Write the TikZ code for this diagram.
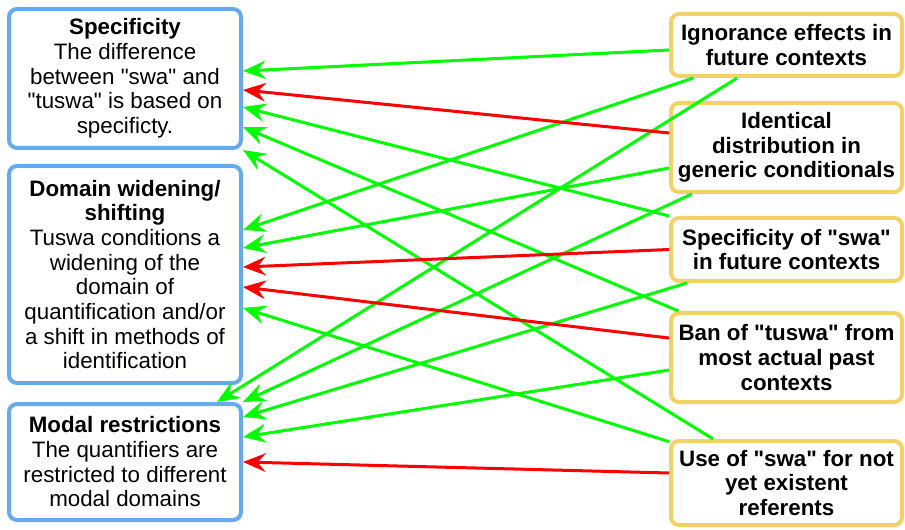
\documentclass[tikz,border=0pt]{standalone}
\usepackage{fontspec}
\setmainfont{Liberation Sans}
\usetikzlibrary{arrows.meta}

\definecolor{boxblue}{RGB}{102,170,238}
\definecolor{boxyellow}{RGB}{242,210,102}
\definecolor{linkgreen}{RGB}{0,255,0}
\definecolor{linkred}{RGB}{255,0,0}
\def\q{\textquotedbl}

\begin{document}
\begin{tikzpicture}[x=0.75pt,y=-0.75pt,
        conceptbox/.style={draw=boxblue,line width=3pt,rounded corners=6pt,fill=white,
            align=center,minimum width=174pt,inner sep=0pt,font={\fontsize{16.75}{18.5}\selectfont}},
        findingbox/.style={draw=boxyellow,line width=3pt,rounded corners=6pt,fill=white,
            align=center,minimum width=173.25pt,inner sep=0pt,font={\bfseries\fontsize{16.75}{18.5}\selectfont}},
        link/.style={line width=2.25pt,-{Stealth[length=17pt,width=14pt,inset=6pt]}}]

    \useasboundingbox (0,0) rectangle (905,530);

    % concepts on the left
    \node [conceptbox,minimum height=104.25pt] (a) at (125,78.5)
        {\textbf{Specificity}\\The difference\\between \q swa\q{} and\\\q tuswa\q{} is based on\\specificty.};
    \node [conceptbox,minimum height=162.75pt] (b) at (125,274.5)
        {\textbf{Domain widening/}\\\textbf{shifting}\\Tuswa conditions a\\widening of the\\domain of\\quantification and/or\\a shift in methods of\\identification};
    \node [conceptbox,minimum height=87pt] (c) at (125,462)
        {\textbf{Modal restrictions}\\The quantifiers are\\restricted to different\\modal domains};

    % findings on the right
    \node [findingbox,minimum height=46.5pt] (r1) at (786.5,45) {Ignorance effects in\\future contexts};
    \node [findingbox,minimum height=66.75pt] (r2) at (786.5,147.5) {Identical\\distribution in\\generic conditionals};
    \node [findingbox,minimum height=47.25pt] (r3) at (786.5,249.5) {Specificity of \q swa\q\\in future contexts};
    \node [findingbox,minimum height=66.75pt] (r4) at (786.5,357.5) {Ban of \q tuswa\q{} from\\most actual past\\contexts};
    \node [findingbox,minimum height=63pt] (r5) at (786.5,483) {Use of \q swa\q{} for not\\yet existent\\referents};

    % supporting links
    \begin{scope}[link,linkgreen]
        \draw ([yshift=-3.75pt]r1.west) -- ([yshift=5.6pt]a.east);
        \draw (r3.north west) -- ([yshift=-21.4pt]a.east);
        \draw ([xshift=7pt]r4.north west) -- ([yshift=-36.4pt]a.east);
        \draw ([xshift=-55pt]r5.north) -- (a.south east);
        \draw ([xshift=-70pt]r1.south) -- ([yshift=33.4pt]b.east);
        \draw ([yshift=-15.4pt]r2.west) -- ([yshift=19.9pt]b.east);
        \draw ([yshift=-2pt]r5.north west) -- ([yshift=-25.1pt]b.east);
        \draw ([xshift=-37pt]r1.south) -- ([xshift=69pt]c.north);
        \draw ([xshift=-71pt]r2.south) -- (c.north east);
        \draw ([xshift=-74.6pt]r3.south) -- ([yshift=33.75pt]c.east);
        \draw ([yshift=-9.4pt]r4.west) -- ([yshift=18.75pt]c.east);
    \end{scope}

    % conflicting links
    \begin{scope}[link,linkred]
        \draw ([yshift=10.9pt]r2.west) -- ([yshift=-8.6pt]a.east);
        \draw (r3.west) -- ([yshift=5.6pt]b.east);
        \draw ([yshift=14.6pt]r4.west) -- ([yshift=-9.4pt]b.east);
        \draw ([yshift=7.5pt]r5.west) -- (c.east);
    \end{scope}
\end{tikzpicture}
\end{document}
